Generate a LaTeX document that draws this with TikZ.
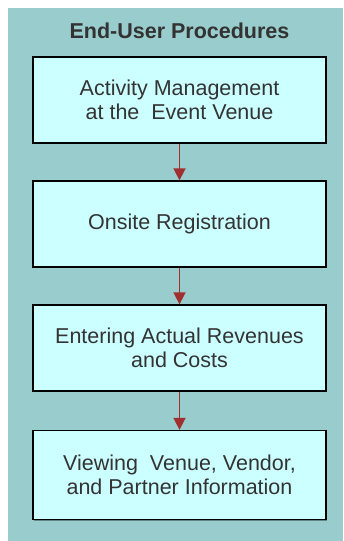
\documentclass[tikz,border=0pt]{standalone}
\usepackage{fontspec}
\setmainfont{Liberation Sans}
\usetikzlibrary{arrows.meta,shadows}
\definecolor{panel}{HTML}{99CCCC}
\definecolor{boxfill}{HTML}{CCFFFF}
\definecolor{arrowred}{HTML}{A03030}
\definecolor{txt}{HTML}{333333}
\begin{document}
\begin{tikzpicture}[x=1pt,y=-1pt,
  stepbox/.style={draw=black, line width=1.3pt, fill=boxfill, minimum width=293pt,
    minimum height=86pt, inner sep=0pt, align=center, text=txt,
    font=\fontsize{21.5}{24}\selectfont,
    drop shadow={shadow xshift=1.2pt, shadow yshift=-1.2pt, fill=black, opacity=0.35}},
  flow/.style={draw=arrowred, line width=1.6pt, -{Triangle[length=12pt,width=12pt]}}]
\useasboundingbox (0,0) rectangle (343,541);
\fill[panel] (8,8) rectangle (343,541);
\node[font=\bfseries\fontsize{21.5}{24}\selectfont, text=txt] (title) at (179.5,31) {End-User Procedures};
\node[stepbox] (a) at (179.5,100) {Activity Management\\at the\ \ Event Venue};
\node[stepbox] (b) at (179.5,224) {Onsite Registration};
\node[stepbox] (c) at (179.5,348) {Entering Actual Revenues\\and Costs};
\node[stepbox, minimum height=89pt] (d) at (179.5,475) {Viewing\ \ Venue, Vendor,\\and Partner Information};
\draw[flow] (a) -- (b);
\draw[flow] (b) -- (c);
\draw[flow] (c) -- (d);
\end{tikzpicture}
\end{document}
